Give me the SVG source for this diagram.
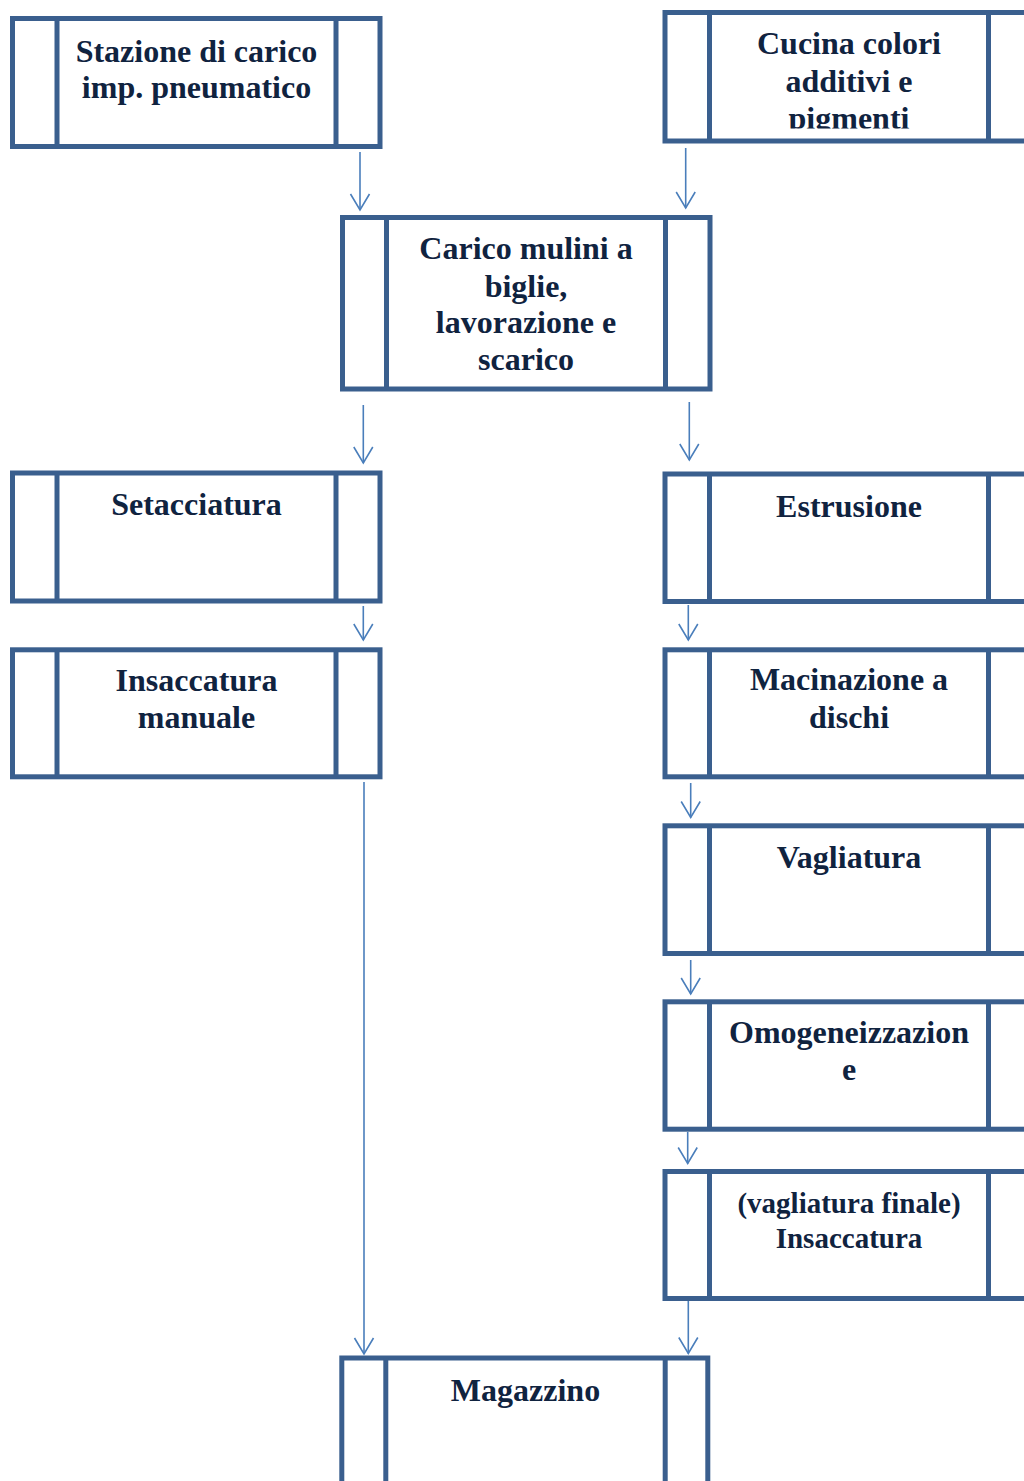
<svg xmlns="http://www.w3.org/2000/svg" width="1024" height="1481" viewBox="0 0 1024 1481">
<style>
.box{fill:#ffffff;stroke:#3A5F8E;stroke-width:5}
.bar{stroke:#3A5F8E;stroke-width:5}
.t{font-family:"Liberation Serif","Times New Roman",serif;font-weight:bold;font-size:32px;fill:#10233F;text-anchor:middle}
.ts{font-size:29px}
.c{stroke:#4A7EBB;stroke-width:1.6;fill:none;marker-end:url(#ah)}
</style>
<defs>
<marker id="ah" markerUnits="userSpaceOnUse" markerWidth="20" markerHeight="20" refX="0" refY="0" orient="auto" overflow="visible">
<path d="M-16,-9.5 L0,0 L-16,9.5" fill="none" stroke="#4A7EBB" stroke-width="1.6"/>
</marker>
<clipPath id="clipCucina"><rect x="712" y="15" width="274" height="113.5"/></clipPath>
</defs>

<g id="connectors">
<line class="c" x1="360" y1="152" x2="360" y2="210"/>
<line class="c" x1="685.7" y1="148" x2="685.7" y2="208"/>
<line class="c" x1="363.3" y1="405" x2="363.3" y2="463"/>
<line class="c" x1="689.3" y1="402" x2="689.3" y2="460"/>
<line class="c" x1="363.3" y1="606" x2="363.3" y2="640"/>
<line class="c" x1="688.3" y1="605" x2="688.3" y2="640"/>
<line class="c" x1="690.7" y1="783" x2="690.7" y2="817.5"/>
<line class="c" x1="690.7" y1="960" x2="690.7" y2="994"/>
<line class="c" x1="687.7" y1="1132" x2="687.7" y2="1163.5"/>
<line class="c" x1="364" y1="782" x2="364" y2="1354"/>
<line class="c" x1="688.3" y1="1300" x2="688.3" y2="1353.5"/>
</g>

<g id="stazione">
<rect class="box" x="12.5" y="18.5" width="367.5" height="128"/>
<line class="bar" x1="57" y1="18.5" x2="57" y2="146.5"/>
<line class="bar" x1="336" y1="18.5" x2="336" y2="146.5"/>
<text class="t" x="196.5" y="61.7">Stazione di carico</text>
<text class="t" x="196.5" y="98.3">imp. pneumatico</text>
</g>

<g id="cucina">
<rect class="box" x="665" y="12.5" width="367.5" height="128.5"/>
<line class="bar" x1="709.5" y1="12.5" x2="709.5" y2="141"/>
<line class="bar" x1="988.5" y1="12.5" x2="988.5" y2="141"/>
<g clip-path="url(#clipCucina)">
<text class="t" x="849" y="54">Cucina colori</text>
<text class="t" x="849" y="91.5">additivi e</text>
<text class="t" x="849" y="129">pigmenti</text>
</g>
</g>

<g id="carico">
<rect class="box" x="342.5" y="217.5" width="367.5" height="171.5"/>
<line class="bar" x1="386.5" y1="217.5" x2="386.5" y2="389"/>
<line class="bar" x1="665.5" y1="217.5" x2="665.5" y2="389"/>
<text class="t" x="526" y="259.3">Carico mulini a</text>
<text class="t" x="526" y="296.5">biglie,</text>
<text class="t" x="526" y="333.3">lavorazione e</text>
<text class="t" x="526" y="370">scarico</text>
</g>

<g id="setacciatura">
<rect class="box" x="12.5" y="473" width="367.5" height="128"/>
<line class="bar" x1="57" y1="473" x2="57" y2="601"/>
<line class="bar" x1="336" y1="473" x2="336" y2="601"/>
<text class="t" x="196.5" y="515">Setacciatura</text>
</g>

<g id="estrusione">
<rect class="box" x="665" y="474" width="367.5" height="127.5"/>
<line class="bar" x1="709.5" y1="474" x2="709.5" y2="601.5"/>
<line class="bar" x1="988.5" y1="474" x2="988.5" y2="601.5"/>
<text class="t" x="849" y="516.7">Estrusione</text>
</g>

<g id="insaccatura-manuale">
<rect class="box" x="12.5" y="649.8" width="367.5" height="127"/>
<line class="bar" x1="57" y1="649.8" x2="57" y2="776.8"/>
<line class="bar" x1="336" y1="649.8" x2="336" y2="776.8"/>
<text class="t" x="196.5" y="690.7">Insaccatura</text>
<text class="t" x="196.5" y="728.3">manuale</text>
</g>

<g id="macinazione">
<rect class="box" x="665" y="649.8" width="367.5" height="127"/>
<line class="bar" x1="709.5" y1="649.8" x2="709.5" y2="776.8"/>
<line class="bar" x1="988.5" y1="649.8" x2="988.5" y2="776.8"/>
<text class="t" x="849" y="690">Macinazione a</text>
<text class="t" x="849" y="727.7">dischi</text>
</g>

<g id="vagliatura">
<rect class="box" x="665" y="825.8" width="367.5" height="127.7"/>
<line class="bar" x1="709.5" y1="825.8" x2="709.5" y2="953.5"/>
<line class="bar" x1="988.5" y1="825.8" x2="988.5" y2="953.5"/>
<text class="t" x="849" y="868.3">Vagliatura</text>
</g>

<g id="omogeneizzazione">
<rect class="box" x="665" y="1001.8" width="367.5" height="127.4"/>
<line class="bar" x1="709.5" y1="1001.8" x2="709.5" y2="1129.2"/>
<line class="bar" x1="988.5" y1="1001.8" x2="988.5" y2="1129.2"/>
<text class="t" x="849" y="1043.3">Omogeneizzazion</text>
<text class="t" x="849" y="1080">e</text>
</g>

<g id="vagliatura-finale">
<rect class="box" x="665" y="1171.5" width="367.5" height="127"/>
<line class="bar" x1="709.5" y1="1171.5" x2="709.5" y2="1298.5"/>
<line class="bar" x1="988.5" y1="1171.5" x2="988.5" y2="1298.5"/>
<text class="t ts" x="849" y="1212.7">(vagliatura finale)</text>
<text class="t ts" x="849" y="1247.7">Insaccatura</text>
</g>

<g id="magazzino">
<rect class="box" x="341.8" y="1358" width="366" height="180"/>
<line class="bar" x1="385.8" y1="1358" x2="385.8" y2="1538"/>
<line class="bar" x1="665.2" y1="1358" x2="665.2" y2="1538"/>
<text class="t" x="525.5" y="1401">Magazzino</text>
</g>
</svg>
